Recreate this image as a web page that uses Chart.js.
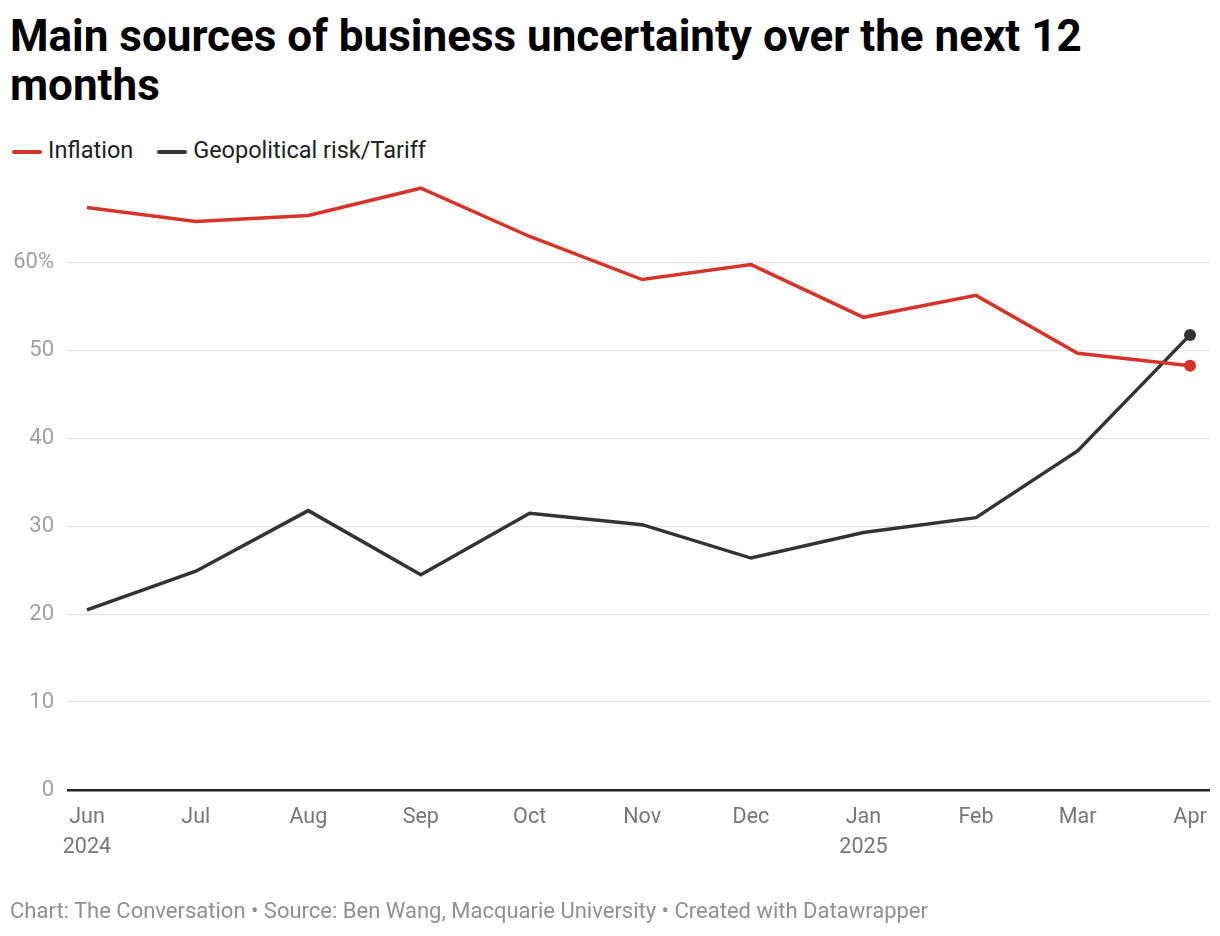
<!DOCTYPE html>
<html>
<head>
<meta charset="utf-8">
<script src="https://cdn.jsdelivr.net/npm/chart.js@4.4.1/dist/chart.umd.min.js"></script>
<style>
  body { margin: 0; background: #fff; font-family: Roboto, sans-serif; }
  #wrap { position: relative; width: 1220px; height: 936px; }
  #title { position: absolute; left: 10px; top: 12px; width: 1150px; font-size: 44px; font-weight: 700; line-height: 49px; color: #000; }
  #legend { position: absolute; left: 12px; top: 136px; font-size: 23.5px; color: #222; }
  #legend span.sw { display: inline-block; width: 30px; height: 4px; border-radius: 2px; vertical-align: middle; margin-right: 6px; }
  #legend span.item { margin-right: 18px; }
  #footer { position: absolute; left: 10px; top: 898px; font-size: 22px; color: #909090; }
  canvas { position: absolute; left: 0; top: 0; }
</style>
</head>
<body>
<div id="wrap">
  <div id="title">Main sources of business uncertainty over the next 12 months</div>
  <div id="legend">
    <span class="item"><span class="sw" style="background:#d6342b"></span>Inflation</span>
    <span class="item"><span class="sw" style="background:#333"></span>Geopolitical risk/Tariff</span>
  </div>
  <canvas id="graph1" width="1220" height="936"></canvas>
  <div id="footer">Chart: The Conversation • Source: Ben Wang, Macquarie University • Created with Datawrapper</div>
</div>
<script>
var dates = ['2024-06-01', '2024-07-01', '2024-08-01', '2024-09-01', '2024-10-01', '2024-11-01',
             '2024-12-01', '2025-01-01', '2025-02-01', '2025-03-01', '2025-04-01'];
var monthLabels = [['Jun', '2024'], 'Jul', 'Aug', 'Sep', 'Oct', 'Nov', 'Dec', ['Jan', '2025'], 'Feb', 'Mar', 'Apr'];
var inflation = [66.3, 64.7, 65.4, 68.5, 63.0, 58.1, 59.8, 53.8, 56.3, 49.7, 48.3];
var geopolitical = [20.5, 24.9, 31.8, 24.5, 31.5, 30.2, 26.4, 29.3, 31.0, 38.6, 51.8];
var yTicks = [0, 10, 20, 30, 40, 50, 60];

// days since first month, so months of different length are spaced like dates
var start = new Date(dates[0]).getTime();
var days = dates.map(function (d) { return Math.round((new Date(d).getTime() - start) / 86400000); });

function toPoints(values) {
  return values.map(function (v, i) { return { x: days[i], y: v }; });
}

function lastPointRadius(ctx) {
  return ctx.dataIndex === ctx.dataset.data.length - 1 ? 6 : 0;
}

var ctx = document.getElementById('graph1').getContext('2d');

var graph1 = new Chart(ctx, {
  type: 'line',
  data: {
    datasets: [{
      label: 'Inflation',
      data: toPoints(inflation),
      borderColor: '#d6342b',
      backgroundColor: '#d6342b',
      borderWidth: 3.5,
      pointRadius: lastPointRadius,
      pointBorderWidth: 0,
      tension: 0
    }, {
      label: 'Geopolitical risk/Tariff',
      data: toPoints(geopolitical),
      borderColor: '#333333',
      backgroundColor: '#333333',
      borderWidth: 3.5,
      pointRadius: lastPointRadius,
      pointBorderWidth: 0,
      tension: 0
    }]
  },
  options: {
    responsive: false,
    animation: false,
    layout: { padding: { top: 175, right: 10, left: 0, bottom: 0 } },
    plugins: {
      legend: { display: false },
      tooltip: { enabled: false }
    },
    scales: {
      x: {
        type: 'linear',
        min: -5.5,
        max: days[days.length - 1] + 5.5,
        afterBuildTicks: function (scale) {
          scale.ticks = days.map(function (d) { return { value: d }; });
        },
        afterFit: function (scale) { scale.height = 146; },
        grid: { display: false },
        border: { display: false },
        ticks: {
          autoSkip: false,
          maxRotation: 0,
          padding: 5,
          color: '#777',
          font: { family: 'Roboto', size: 21.5, lineHeight: 1.38 },
          callback: function (value) {
            var i = days.indexOf(value);
            return i >= 0 ? monthLabels[i] : '';
          }
        }
      },
      y: {
        min: 0,
        max: 70,
        afterBuildTicks: function (scale) {
          scale.ticks = yTicks.map(function (v) { return { value: v }; });
        },
        afterFit: function (scale) { scale.width = 67; },
        border: { display: false },
        grid: {
          drawTicks: false,
          color: function (c) { return c.tick && c.tick.value === 0 ? '#222' : '#e3e3e3'; },
          lineWidth: function (c) { return c.tick && c.tick.value === 0 ? 2.5 : 1.3; }
        },
        ticks: {
          padding: 13,
          color: '#a0a0a0',
          font: { family: 'Roboto', size: 22 },
          callback: function (v) { return v === 60 ? '60%' : v; }
        }
      }
    }
  }
});
</script>
</body>
</html>
